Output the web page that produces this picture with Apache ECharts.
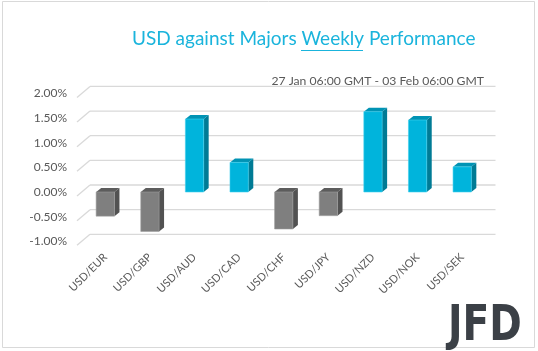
<!DOCTYPE html>
<html>
<head>
<meta charset="utf-8">
<script src="https://cdn.jsdelivr.net/npm/echarts@6/dist/echarts.min.js"></script>
<style>
  html, body { margin: 0; padding: 0; background: #fff; }
  #chart { width: 538px; height: 351px; }
</style>
</head>
<body>
<div id="chart"></div>
<script>
var chartDom = document.getElementById('chart');
var myChart = echarts.init(chartDom);

// data
var pairs = ['USD/EUR', 'USD/GBP', 'USD/AUD', 'USD/CAD', 'USD/CHF', 'USD/JPY', 'USD/NZD', 'USD/NOK', 'USD/SEK'];
var changes = [-0.49, -0.80, 1.48, 0.60, -0.75, -0.48, 1.63, 1.46, 0.51];
var yTicks = [-1, -0.5, 0, 0.5, 1, 1.5, 2];

var barData = changes.map(function (v, i) { return [i, v]; });
var tickData = yTicks.map(function (v) { return [0, v]; });

// fake 3d depth
var depthX = 5, depthY = 4;

function renderBar(params, api) {
  var i = api.value(0);
  var v = api.value(1);
  var base = api.coord([i, 0]);
  var tip = api.coord([i, v]);
  var w = api.size([1, 0])[0] * 0.41;
  var x0 = base[0] - w / 2;
  var x1 = base[0] + w / 2;
  var top = Math.min(base[1], tip[1]);
  var bottom = Math.max(base[1], tip[1]);
  var pos = v >= 0;
  var front = pos ? '#00B4DC' : '#7F7F7F';
  var side = pos ? '#007B95' : '#525252';
  var cap = pos ? '#0093B4' : '#5C5C5C';
  return {
    type: 'group',
    children: [
      {
        type: 'polygon',
        shape: { points: [[x1, top], [x1 + depthX, top - depthY], [x1 + depthX, bottom - depthY], [x1, bottom]] },
        style: { fill: side }
      },
      {
        type: 'polygon',
        shape: { points: [[x0, top], [x0 + depthX, top - depthY], [x1 + depthX, top - depthY], [x1, top]] },
        style: { fill: cap }
      },
      {
        type: 'rect',
        shape: { x: x0, y: top, width: w, height: bottom - top },
        style: { fill: front, stroke: pos ? '#3fd0ef' : '#9a9a9a', lineWidth: 0.6 }
      }
    ]
  };
}

function renderGridLine(params, api) {
  var cs = params.coordSys;
  var y = api.coord([0, api.value(1)])[1];
  var bx = cs.x + 7, by = y - 7;
  return {
    type: 'group',
    children: [
      {
        type: 'line',
        shape: { x1: bx, y1: by, x2: cs.x + cs.width + 11, y2: by },
        style: { stroke: '#d9d9d9', lineWidth: 1.3 }
      },
      {
        type: 'line',
        shape: { x1: cs.x - 6, y1: y + 4, x2: bx, y2: by },
        style: { stroke: '#d9d9d9', lineWidth: 1.3 }
      }
    ]
  };
}

var option = {
  backgroundColor: '#fff',
  animation: false,
  title: [
    {
      text: 'USD against Majors Weekly Performance',
      left: 127,
      top: 24,
      textStyle: { fontFamily: 'Lato', fontSize: 19, fontWeight: 'normal', color: '#1AB4DC' }
    },
    {
      text: '27 Jan 06:00 GMT - 03 Feb 06:00 GMT',
      right: 49,
      top: 70,
      textStyle: { fontFamily: 'Lato', fontSize: 12.2, fontWeight: 'normal', color: '#595959' }
    }
  ],
  graphic: [
    {
      type: 'rect',
      shape: { x: 2.5, y: 1.5, width: 532, height: 346 },
      style: { fill: 'none', stroke: '#d9d9d9', lineWidth: 1 },
      silent: true
    },
    {
      type: 'line',
      shape: { x1: 301, y1: 50.5, x2: 363, y2: 50.5 },
      style: { stroke: '#1AB4DC', lineWidth: 1 }
    },
    {
      type: 'text',
      left: 448,
      top: 303,
      scaleX: 0.8,
      style: {
        text: 'JFD',
        font: 'bold 49px "DejaVu Sans"',
        fill: '#3B4046'
      }
    }
  ],
  grid: {
    left: 83,
    right: 53.5,
    top: 93.4,
    bottom: 109.7
  },
  xAxis: {
    type: 'category',
    data: pairs,
    axisLine: { show: false },
    axisTick: { show: false },
    axisLabel: {
      rotate: 45,
      margin: 14,
      interval: 0,
      fontFamily: 'Lato',
      fontSize: 11,
      color: '#595959'
    }
  },
  yAxis: {
    type: 'value',
    min: -1,
    max: 2,
    interval: 0.5,
    splitLine: { show: false },
    axisLine: { show: false },
    axisTick: { show: false },
    axisLabel: {
      margin: 16,
      padding: [8, 0, 0, 0],
      fontFamily: 'Lato',
      fontSize: 12,
      color: '#595959',
      formatter: function (v) { return v.toFixed(2) + '%'; }
    }
  },
  series: [
    {
      type: 'custom',
      name: 'grid',
      renderItem: renderGridLine,
      data: tickData,
      clip: false,
      silent: true,
      z: 1
    },
    {
      type: 'custom',
      name: 'change',
      renderItem: renderBar,
      data: barData,
      clip: false,
      z: 2
    }
  ]
};

option && myChart.setOption(option);
window.addEventListener('resize', function () { myChart.resize(); });
</script>
</body>
</html>
